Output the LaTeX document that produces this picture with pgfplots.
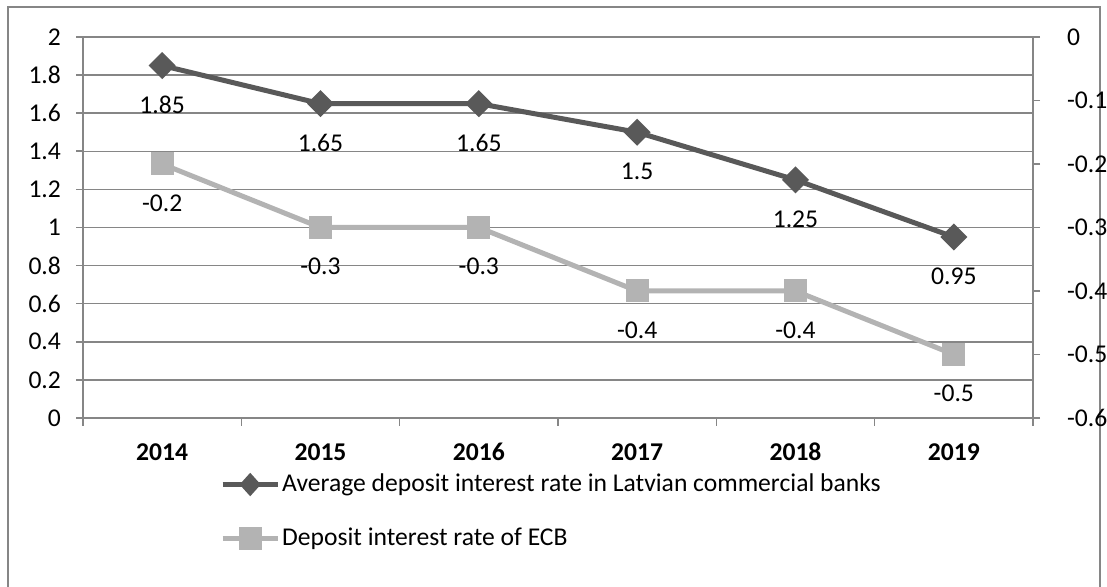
\documentclass[border=0pt]{standalone}
\usepackage{fontspec}
\setmainfont{Carlito}
\usepackage{pgfplots}
\pgfplotsset{compat=1.18}

\definecolor{darkser}{HTML}{595959}
\definecolor{lightser}{HTML}{B3B3B3}
\definecolor{gridgray}{HTML}{868686}
\newcommand{\lbl}{\fontsize{12.8}{15.4}\selectfont}

\pgfplotsset{
  base/.style={
    scale only axis, width=475pt, height=190.5pt,
    at={(41.5pt,84.5pt)}, anchor=south west,
    xmin=-0.5, xmax=5.5,
    axis line style={draw=gridgray, line width=0.8pt},
    tick style={draw=gridgray, line width=0.8pt},
    tick align=outside, major tick length=3.5pt,
    ticklabel style={font=\lbl},
    /pgf/number format/assume math mode=true,
    nodes near coords,
    point meta=explicit symbolic,
    every node near coord/.append style={font=\lbl, text=black, anchor=center, yshift=-19.5pt},
  },
}

\begin{document}
\begin{tikzpicture}
\useasboundingbox (0,0) rectangle (553.5pt,293.5pt);
\draw[gridgray, line width=0.8pt] (4pt,0) -- (4pt,290pt) -- (550pt,290pt) -- (550pt,0);

% left axis: Latvian banks
\begin{axis}[
  base,
  ymin=0, ymax=2, ytick={0,0.2,...,2.01},
  axis x line*=bottom, axis y line*=left,
  xtick={0,...,5}, xticklabels={2014,2015,2016,2017,2018,2019},
  xticklabel style={font=\lbl\bfseries, anchor=base, yshift=-18pt},
  x tick style={draw=none},
  minor xtick={-0.5,0.5,...,5.5},
  minor x tick style={draw=gridgray, line width=0.8pt},
  minor tick length=4pt,
  ymajorgrids, grid style={draw=gridgray, line width=0.75pt},
  yticklabel style={xshift=-4pt, /pgf/number format/fixed, /pgf/number format/precision=1},
]
\addplot[darkser, line width=2.5pt, mark=diamond*, mark size=5pt, mark options={xscale=1.33}]
  coordinates {(0,1.85)[1.85] (1,1.65)[1.65] (2,1.65)[1.65] (3,1.5)[1.5] (4,1.25)[1.25] (5,0.95)[0.95]};
\end{axis}

% right axis: ECB
\begin{axis}[
  base,
  ymin=-0.6, ymax=0, ytick={-0.6,-0.5,...,0.01},
  axis y line*=right, axis x line=none,
  yticklabel style={xshift=10pt, /pgf/number format/fixed, /pgf/number format/precision=1},
  legend style={draw=none, fill=none, at={(0.144,-0.245)}, anchor=west,
    font=\lbl, row sep=14.5pt, inner sep=0pt,
    nodes={inner sep=1pt, anchor=west}},
  legend cell align=left,
  legend image code/.code={\draw[mark repeat=2, mark phase=2] plot coordinates {(0pt,0pt) (13.75pt,0pt) (27.5pt,0pt)};},
]
\addlegendimage{darkser, line width=2.5pt, mark=diamond*, mark size=4pt, mark options={xscale=1.2}}
\addplot[lightser, line width=2.5pt, mark=square*, mark size=4.5pt]
  coordinates {(0,-0.2)[-0.2] (1,-0.3)[-0.3] (2,-0.3)[-0.3] (3,-0.4)[-0.4] (4,-0.4)[-0.4] (5,-0.5)[-0.5]};
\legend{Average deposit interest rate in Latvian commercial banks, Deposit interest rate of ECB}
\end{axis}
\end{tikzpicture}
\end{document}
